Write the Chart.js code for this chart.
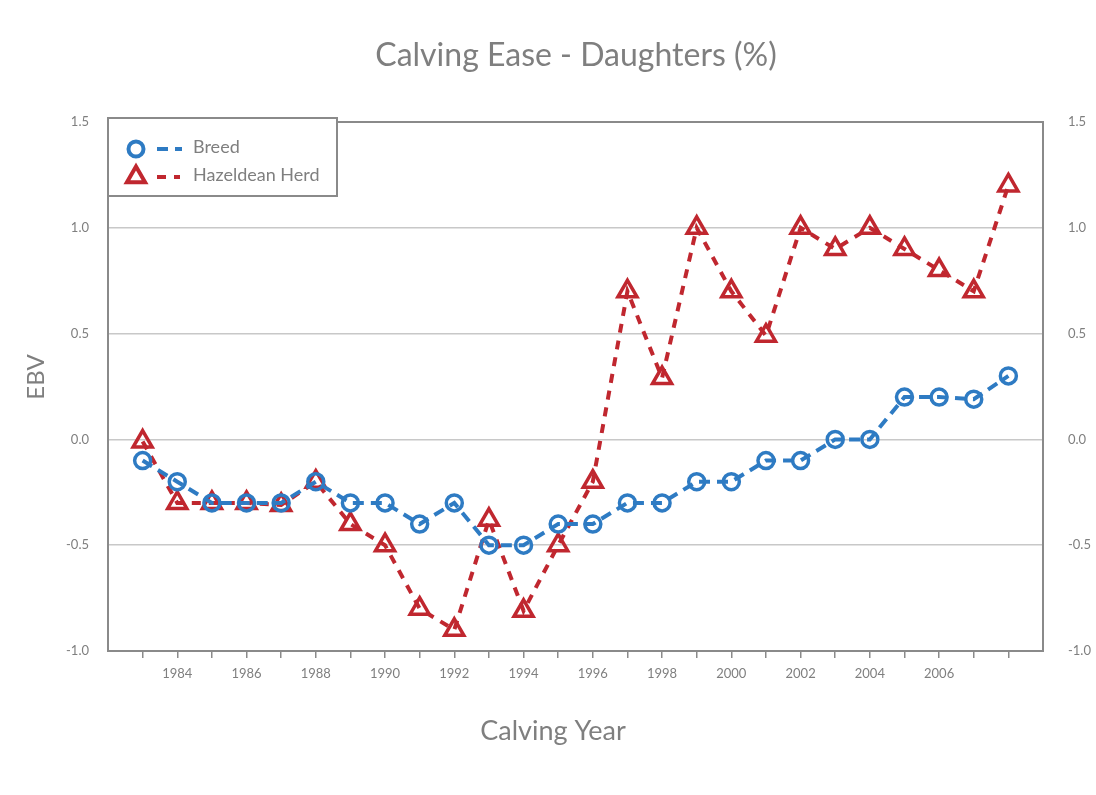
<!DOCTYPE html>
<html>
<head>
<meta charset="utf-8">
<script src="https://cdn.jsdelivr.net/npm/chart.js@4/dist/chart.umd.min.js"></script>
<style>
  html, body { margin: 0; padding: 0; background: #fff; }
  #wrap { width: 1096px; height: 795px; }
</style>
</head>
<body>
<div id="wrap"><canvas id="grafico_ebv"></canvas></div>
<script>
// dados
const anos = [1983, 1984, 1985, 1986, 1987, 1988, 1989, 1990, 1991, 1992, 1993, 1994, 1995,
              1996, 1997, 1998, 1999, 2000, 2001, 2002, 2003, 2004, 2005, 2006, 2007, 2008];
const breed = [-0.1, -0.2, -0.3, -0.3, -0.3, -0.2, -0.3, -0.3, -0.4, -0.3, -0.5, -0.5, -0.4,
               -0.4, -0.3, -0.3, -0.2, -0.2, -0.1, -0.1, 0.0, 0.0, 0.2, 0.2, 0.19, 0.3];
const herd = [-0.01, -0.3, -0.3, -0.3, -0.31, -0.2, -0.4, -0.5, -0.8, -0.9, -0.38, -0.81, -0.5,
              -0.2, 0.7, 0.29, 1.0, 0.7, 0.49, 1.0, 0.9, 1.0, 0.9, 0.8, 0.7, 1.2];
const xLabels = [1984, 1986, 1988, 1990, 1992, 1994, 1996, 1998, 2000, 2002, 2004, 2006];
const yTicks = [-1.0, -0.5, 0.0, 0.5, 1.0, 1.5];

const AZUL = '#2e7bc3';
const VERMELHO = '#c0272f';
const CINZA = '#7f7f7f';
const FONTE = 'Lato, "Open Sans", sans-serif';

const ctx = document.getElementById('grafico_ebv');

// moldura, titulos e legenda
const extras = {
  id: 'extras',
  beforeDatasetsDraw(chart) {
    const c = chart.ctx, a = chart.chartArea;
    c.save();
    c.strokeStyle = '#8a8a8a';
    c.lineWidth = 2;
    c.strokeRect(a.left, a.top, a.right - a.left, a.bottom - a.top);
    c.restore();
  },
  afterDraw(chart) {
    const c = chart.ctx, a = chart.chartArea;
    c.save();
    c.fillStyle = CINZA;
    c.textAlign = 'center';
    c.textBaseline = 'middle';
    c.font = '32px ' + FONTE;
    c.fillText('Calving Ease - Daughters (%)', 576, 56);
    c.font = '27px ' + FONTE;
    c.fillText('Calving Year', 553, 731);
    c.translate(36, 377);
    c.rotate(-Math.PI / 2);
    c.font = '24px ' + FONTE;
    c.fillText('EBV', 0, 0);
    c.restore();

    // legenda
    c.save();
    c.fillStyle = '#fff';
    c.fillRect(a.left, 118, 229, 78);
    c.strokeStyle = '#8a8a8a';
    c.lineWidth = 2;
    c.strokeRect(a.left, 118, 229, 78);
    const itens = [
      { y: 149, label: 'Breed', ds: chart.data.datasets[0] },
      { y: 177, label: 'Hazeldean Herd', ds: chart.data.datasets[1] }
    ];
    itens.forEach((it, i) => {
      const ds = it.ds;
      c.strokeStyle = ds.borderColor;
      c.lineWidth = 4;
      c.setLineDash(ds.borderDash);
      c.beginPath();
      c.moveTo(157, it.y);
      c.lineTo(i === 0 ? 182 : 180, it.y);
      c.stroke();
      c.setLineDash([]);
      c.fillStyle = 'rgba(0,0,0,0)';
      Chart.helpers.drawPoint(c, {
        pointStyle: ds.pointStyle,
        radius: i === 0 ? 7.5 : 10.5,
        borderWidth: ds.pointBorderWidth,
        rotation: 0
      }, 136, it.y);
      c.fillStyle = CINZA;
      c.font = '18px ' + FONTE;
      c.textAlign = 'left';
      c.textBaseline = 'middle';
      c.fillText(it.label, 193, it.y - 2);
    });
    c.restore();
  }
};

new Chart(ctx, {
  type: 'line',
  data: {
    datasets: [{
      label: 'Breed',
      data: anos.map((a, i) => ({ x: a, y: breed[i] })),
      borderColor: AZUL,
      borderWidth: 4,
      borderDash: [11, 7],
      pointStyle: 'circle',
      pointRadius: 8,
      pointBorderWidth: 3.5,
      pointBorderColor: AZUL,
      pointBackgroundColor: 'rgba(0,0,0,0)',
      tension: 0
    }, {
      label: 'Hazeldean Herd',
      data: anos.map((a, i) => ({ x: a, y: herd[i] })),
      borderColor: VERMELHO,
      borderWidth: 4,
      borderDash: [9, 8],
      pointStyle: 'triangle',
      pointRadius: 11,
      pointBorderWidth: 3.5,
      pointBorderColor: VERMELHO,
      pointBackgroundColor: 'rgba(0,0,0,0)',
      tension: 0
    }]
  },
  options: {
    responsive: true,
    maintainAspectRatio: false,
    animation: false,
    clip: false,
    layout: { padding: { top: 122, bottom: 0, left: 0, right: 0 } },
    plugins: {
      legend: { display: false },
      title: { display: false },
      tooltip: { enabled: false }
    },
    scales: {
      x: {
        type: 'linear',
        min: 1982,
        max: 2009,
        afterBuildTicks: (s) => { s.ticks = anos.map(v => ({ value: v })); },
        afterFit: (s) => { s.height = 144; },
        ticks: {
          autoSkip: false,
          maxRotation: 0,
          color: CINZA,
          padding: 8,
          font: { family: FONTE, size: 13 },
          callback: (v) => xLabels.includes(v) ? String(v) : ''
        },
        grid: { drawOnChartArea: false, drawTicks: true, tickLength: 7, color: '#8a8a8a', lineWidth: 1.5 },
        border: { display: true, color: '#8a8a8a', width: 2 }
      },
      y: {
        position: 'left',
        min: -1,
        max: 1.5,
        afterBuildTicks: (s) => { s.ticks = yTicks.map(v => ({ value: v })); },
        afterFit: (s) => { s.width = 108; },
        ticks: {
          color: CINZA,
          padding: 19,
          font: { family: FONTE, size: 13 },
          callback: (v) => v.toFixed(1)
        },
        grid: {
          drawTicks: false,
          color: (c) => (c.tick && (c.tick.value === -1 || c.tick.value === 1.5)) ? 'rgba(0,0,0,0)' : '#c8c8c8',
          lineWidth: 1.5
        },
        border: { display: true, color: '#8a8a8a', width: 2 }
      },
      y2: {
        position: 'right',
        min: -1,
        max: 1.5,
        afterBuildTicks: (s) => { s.ticks = yTicks.map(v => ({ value: v })); },
        afterFit: (s) => { s.width = 53; },
        ticks: {
          color: CINZA,
          padding: 25,
          font: { family: FONTE, size: 13 },
          callback: (v) => v.toFixed(1)
        },
        grid: { drawOnChartArea: false, drawTicks: false },
        border: { display: true, color: '#8a8a8a', width: 2 }
      }
    }
  },
  plugins: [extras]
});
</script>
</body>
</html>
